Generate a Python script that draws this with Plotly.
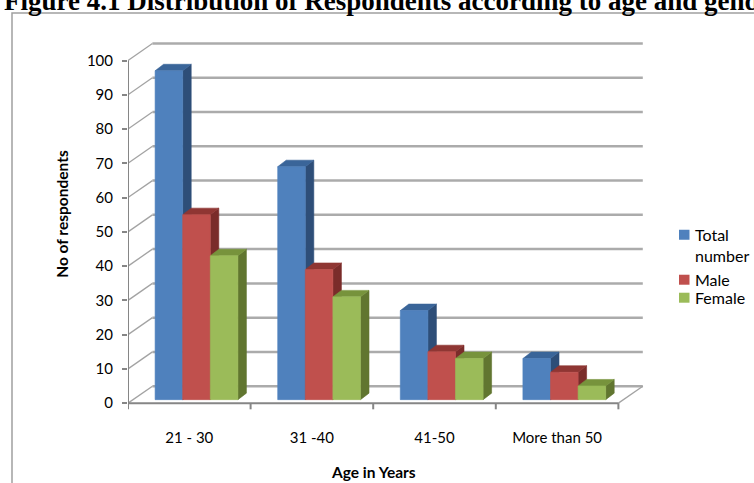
import plotly.graph_objects as go

# ---- data -------------------------------------------------------------
categories = ["21 - 30", "31 -40", "41-50", "More than 50"]
total_number = [96, 68, 26, 12]
male = [54, 38, 14, 8]
female = [42, 30, 12, 4]
y_ticks = list(range(0, 101, 10))
series_names = ["Total number", "Male", "Female"]

# face colours per series: front, top, side
front_colors = ["#4F81BD", "#C0504D", "#9BBB59"]
top_colors = ["#3A6599", "#8F3633", "#77933C"]
side_colors = ["#2E4E78", "#7A2C2A", "#617630"]

# ---- geometry of the oblique (pseudo 3-D) projection ------------------
W, H = 754, 483
PLOT_L, PLOT_R = 128.0, 749.0            # pixel extent of the plotting area
PX_PER_CAT = 122.6                       # pixels per category
PX_PER_UNIT = 3.428                      # pixels per respondent
Y_MIN, Y_MAX = -2.0, 106.0
Y0_PX = 403.5                            # pixel row of value 0 on the front plane
PLOT_B = Y0_PX - Y_MIN * PX_PER_UNIT
PLOT_T = Y0_PX - Y_MAX * PX_PER_UNIT
X_MIN = -0.5
X_MAX = X_MIN + (PLOT_R - PLOT_L) / PX_PER_CAT

WALL_DX = 24.4 / PX_PER_CAT              # depth shift of the back wall
WALL_DY = 17.0 / PX_PER_UNIT
BAR_W = 27.6 / PX_PER_CAT
GROUP_SHIFT = 7.2 / PX_PER_CAT
BAR_BASE = 3.5 / PX_PER_UNIT
BAR_DX = 8.5 / PX_PER_CAT                # bar depth
BAR_DY = 6.5 / PX_PER_UNIT
N = len(categories)


def px_x(px):
    return (px - PLOT_L) / (PLOT_R - PLOT_L)


def px_y(py):
    return (PLOT_B - py) / (PLOT_B - PLOT_T)


fig = go.Figure()

GRID = "#ababab"
AXIS = "#868686"


def seg_trace(xs, ys, color, width, dash="solid"):
    fig.add_trace(go.Scatter(x=xs, y=ys, mode="lines", hoverinfo="skip",
                             line=dict(color=color, width=width, dash=dash),
                             showlegend=False))


# back wall gridlines
gx, gy = [], []
for v in y_ticks:
    gx += [X_MIN + WALL_DX, N - 0.5 + WALL_DX, None]
    gy += [v + WALL_DY, v + WALL_DY, None]
seg_trace(gx, gy, GRID, 2.5)

# side wall connectors from the value axis to the back wall
dx_, dy_ = [], []
for v in y_ticks:
    dx_ += [X_MIN, X_MIN + WALL_DX, None]
    dy_ += [v, v + WALL_DY, None]
dx_ += [N - 0.5, N - 0.5 + WALL_DX, None]
dy_ += [0, WALL_DY, None]
seg_trace(dx_, dy_, "#a3a3a3", 1.3)

# bars: sides, then tops, then fronts so nearer faces cover farther ones
values = [total_number, male, female]


def bar_x0(i, s):
    return i + GROUP_SHIFT + (s - 1.5) * BAR_W


for face in ("side", "top", "front"):
    for s, vals in enumerate(values):
        xs, ys = [], []
        for i, v in enumerate(vals):
            x0 = bar_x0(i, s)
            x1 = x0 + BAR_W
            b = BAR_BASE
            t = BAR_BASE + v
            if face == "front":
                px_ = [x0, x1, x1, x0, x0]
                py_ = [b, b, t, t, b]
            elif face == "top":
                px_ = [x0, x1, x1 + BAR_DX, x0 + BAR_DX, x0]
                py_ = [t, t, t + BAR_DY, t + BAR_DY, t]
            else:
                px_ = [x1, x1 + BAR_DX, x1 + BAR_DX, x1, x1]
                py_ = [b, b + BAR_DY, t + BAR_DY, t, b]
            xs += px_ + [None]
            ys += py_ + [None]
        col = {"front": front_colors, "top": top_colors, "side": side_colors}[face][s]
        fig.add_trace(go.Scatter(
            x=xs, y=ys, mode="lines", fill="toself", fillcolor=col,
            line=dict(color=col, width=0.6), hoverinfo="skip",
            name=series_names[s], showlegend=False))

# front value axis and floor edge
seg_trace([X_MIN, X_MIN], [0, 100], AXIS, 2)
fx, fy = [X_MIN, N - 0.5, None], [0, 0, None]
for k in range(N + 1):
    fx += [k - 0.5, k - 0.5, None]
    fy += [0, -1.8, None]
seg_trace(fx, fy, AXIS, 2)

# ---- layout -------------------------------------------------------------
FONT = "Lato"
TICK_SIZE = 15
shapes = [
    dict(type="rect", xref="paper", yref="paper",
         x0=px_x(12), x1=px_x(770), y0=px_y(500), y1=px_y(13),
         line=dict(color="#a0a0a0", width=1.5), fillcolor="rgba(0,0,0,0)",
         layer="below"),
]

annotations = [
    dict(text="<b>Figure 4.1 Distribution of Respondents according to age and gender</b>",
         xref="paper", yref="paper", x=px_x(2), y=px_y(1), xanchor="left",
         yanchor="middle", showarrow=False,
         font=dict(family="Liberation Serif", size=27, color="#000000")),
    dict(text="<b>No of respondents</b>", xref="paper", yref="paper",
         x=px_x(62), y=px_y(214), textangle=-90, showarrow=False,
         xanchor="center", yanchor="middle",
         font=dict(family=FONT, size=15.5, color="#000000")),
    dict(text="<b>Age in Years</b>", xref="paper", yref="paper",
         x=px_x(373), y=px_y(472), showarrow=False,
         xanchor="center", yanchor="middle",
         font=dict(family=FONT, size=15.5, color="#000000")),
]

# legend: colour keys with their labels
legend_rows = [("Total<br>number", 235, 245), ("Male", 280, 280), ("Female", 298, 298)]
for s, (label, sq_y, txt_y) in enumerate(legend_rows):
    shapes.append(dict(type="rect", xref="paper", yref="paper",
                       x0=px_x(679), x1=px_x(689.5),
                       y0=px_y(sq_y + 5), y1=px_y(sq_y - 5),
                       fillcolor=front_colors[s], line=dict(width=0)))
    annotations.append(dict(text=label, xref="paper", yref="paper",
                            x=px_x(693), y=px_y(txt_y), xanchor="left",
                            yanchor="middle", align="left", showarrow=False,
                            font=dict(family=FONT, size=16, color="#000000")))

fig.update_layout(
    width=W, height=H,
    margin=dict(l=PLOT_L, r=W - PLOT_R, t=PLOT_T, b=H - PLOT_B, pad=0),
    paper_bgcolor="white", plot_bgcolor="white",
    showlegend=False,
    shapes=shapes, annotations=annotations,
    xaxis=dict(range=[X_MIN, X_MAX], tickmode="array",
               tickvals=list(range(N)), ticktext=categories,
               ticks="outside", ticklen=14, tickcolor="rgba(0,0,0,0)",
               showgrid=False, zeroline=False, showline=False,
               tickfont=dict(family=FONT, size=TICK_SIZE, color="#000000"),
               fixedrange=True),
    yaxis=dict(range=[Y_MIN, Y_MAX], tickmode="array", tickvals=y_ticks,
               ticks="outside", ticklen=5, tickwidth=1.5, tickcolor=AXIS,
               ticklabelstandoff=6,
               showgrid=False, zeroline=False, showline=False,
               tickfont=dict(family=FONT, size=TICK_SIZE, color="#000000"),
               fixedrange=True),
)

fig.write_html("out.html")
